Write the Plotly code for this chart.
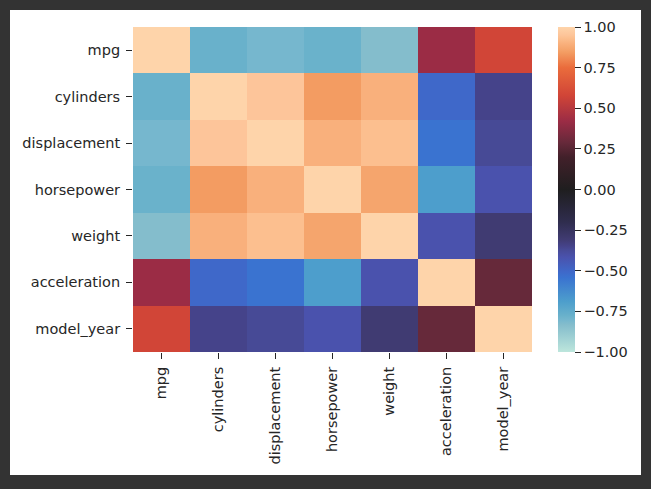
import plotly.graph_objects as go

labels = ["mpg", "cylinders", "displacement", "horsepower", "weight", "acceleration", "model_year"]

corr = [
    [1.000, -0.775, -0.804, -0.778, -0.832, 0.420, 0.579],
    [-0.775, 1.000, 0.951, 0.843, 0.896, -0.505, -0.349],
    [-0.804, 0.951, 1.000, 0.897, 0.933, -0.544, -0.370],
    [-0.778, 0.843, 0.897, 1.000, 0.865, -0.689, -0.416],
    [-0.832, 0.896, 0.933, 0.865, 1.000, -0.417, -0.307],
    [0.420, -0.505, -0.544, -0.689, -0.417, 1.000, 0.288],
    [0.579, -0.349, -0.370, -0.416, -0.307, 0.288, 1.000],
]

cbar_ticks = [-1.0, -0.75, -0.5, -0.25, 0.0, 0.25, 0.5, 0.75, 1.0]

icefire = [
    [0.000, "#bde6dc"],
    [0.084, "#84bdcc"],
    [0.098, "#76b7ce"],
    [0.1125, "#69b1cb"],
    [0.1555, "#4d9ecc"],
    [0.228, "#3a73d0"],
    [0.2475, "#3f68c9"],
    [0.292, "#4a52ad"],
    [0.315, "#474a96"],
    [0.3255, "#45438a"],
    [0.3465, "#403b72"],
    [0.400, "#2f2d4e"],
    [0.500, "#1f1e1f"],
    [0.600, "#42202a"],
    [0.644, "#66293a"],
    [0.710, "#9b2c45"],
    [0.790, "#d14537"],
    [0.875, "#ea6c3c"],
    [0.9215, "#f39c62"],
    [0.9325, "#f5a56d"],
    [0.9485, "#f9b07c"],
    [0.9665, "#fcbf8f"],
    [0.9755, "#fdc59a"],
    [1.000, "#fed4aa"],
]

W, H = 651, 489
L, R, T, B = 133, 532, 27, 352
pw, ph = R - L, B - T

def px_x(p):
    return (p - L) / pw

def px_y(p):
    return (B - p) / ph

font = dict(family="DejaVu Sans", size=14.5, color="#262626")

fig = go.Figure(
    go.Heatmap(
        z=corr,
        x=labels,
        y=labels,
        zmin=-1,
        zmax=1,
        colorscale=icefire,
        colorbar=dict(
            x=px_x(558),
            xanchor="left",
            xpad=0,
            ypad=0,
            y=0.5,
            yanchor="middle",
            len=ph,
            lenmode="pixels",
            thickness=17,
            thicknessmode="pixels",
            outlinewidth=0,
            tickvals=cbar_ticks,
            tickformat=".2f",
            ticks="outside",
            ticklen=6,
            tickwidth=1,
            tickcolor="#262626",
            tickfont=font,
        ),
    )
)

fig.add_shape(
    type="rect",
    xref="paper",
    yref="paper",
    x0=px_x(10),
    x1=px_x(641),
    y0=px_y(475),
    y1=px_y(10),
    fillcolor="white",
    line=dict(width=0),
    layer="below",
)

fig.update_layout(
    width=W,
    height=H,
    margin=dict(l=L, r=W - R, t=T, b=H - B, pad=0),
    paper_bgcolor="#333333",
    plot_bgcolor="white",
    font=font,
    showlegend=False,
)

fig.update_xaxes(
    tickangle=-90,
    ticks="outside",
    ticklen=6,
    tickcolor="#262626",
    tickfont=font,
    ticklabelstandoff=2,
    showgrid=False,
    zeroline=False,
    showline=False,
)
fig.update_yaxes(
    autorange="reversed",
    ticks="outside",
    ticklen=6,
    tickcolor="#262626",
    tickfont=font,
    ticklabelstandoff=3,
    showgrid=False,
    zeroline=False,
    showline=False,
)

fig.write_html(
    "out.html",
    config={"displayModeBar": False},
    post_script="document.body.style.margin='0';document.body.style.background='#333333';",
)
